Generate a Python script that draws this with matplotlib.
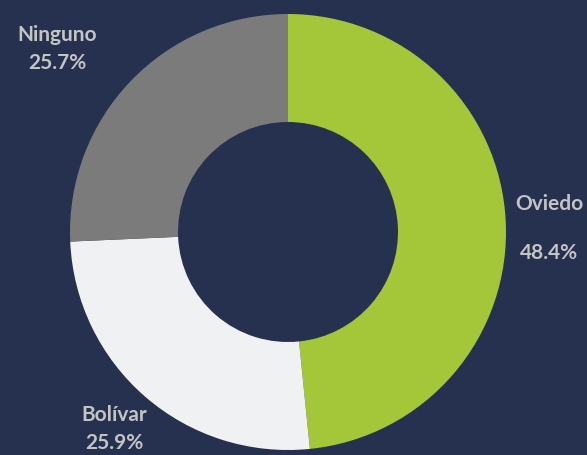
import matplotlib.pyplot as plt

categorias = ['Oviedo', 'Bolívar', 'Ninguno']
porcentajes = [48.4, 25.9, 25.7]
colores = ['#a4c639', '#f0f1f3', '#7b7b7b']

fondo = '#263150'

fig = plt.figure(figsize=(5.87, 4.55), dpi=100)
fig.patch.set_facecolor(fondo)
ax = fig.add_axes([0, 0, 1, 1])
ax.set_facecolor(fondo)

ax.pie(porcentajes, colors=colores, startangle=90, counterclock=False,
       center=(288, 455 - 232), radius=218,
       wedgeprops=dict(width=108, edgecolor='none'), frame=True)
ax.set_xlim(0, 587)
ax.set_ylim(0, 455)
ax.set_aspect('equal')
ax.axis('off')

# etiquetas (posicion en pixeles)
pos = {'Oviedo': (549, 204, 253), 'Bolívar': (114, 415, 443), 'Ninguno': (57, 35, 63)}
for cat, val in zip(categorias, porcentajes):
    x, y1, y2 = pos[cat]
    ax.text(x, 455 - y1, cat, ha='center', va='center', color='#c4c4c4',
            fontsize=15, fontweight='bold', family=['Lato', 'DejaVu Sans'])
    ax.text(x, 455 - y2, f'{val}%', ha='center', va='center', color='#c4c4c4',
            fontsize=15, fontweight='bold', family=['Lato', 'DejaVu Sans'])

fig.savefig('out.png', dpi=100, facecolor=fondo)
